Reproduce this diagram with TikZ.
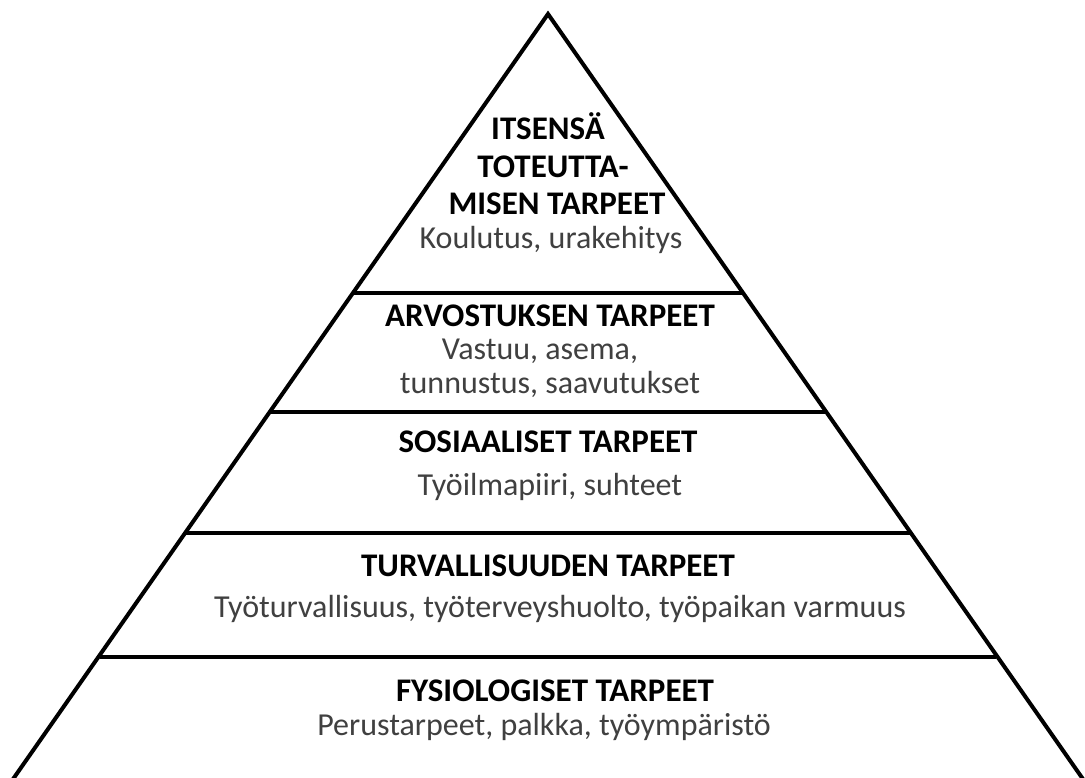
\documentclass[tikz,border=0pt]{standalone}
\usepackage{fontspec}
\setmainfont{Carlito}
\definecolor{bodygray}{HTML}{404040}

\begin{document}
\begin{tikzpicture}[x=1pt,y=-1pt,
  title/.style={font=\fontsize{33}{36}\selectfont\bfseries, text=black, inner sep=0pt},
  body/.style={font=\fontsize{32}{36}\selectfont, text=bodygray, inner sep=0pt}]
\useasboundingbox (0,0) rectangle (1085,778);
\fill[white] (0,0) rectangle (1085,778);
\begin{scope}
\clip (0,0) rectangle (1085,778);
\coordinate (top) at (548,14);
\coordinate (bl) at (4,792);
\coordinate (br) at (1092,792);
\draw[black, line width=4pt, line join=miter] (bl) -- (top) -- (br);
\draw[black, line width=4pt](353.5,293) -- (742.5,293);
\draw[black, line width=4pt](270.6,412) -- (825.4,412);
\draw[black, line width=4pt](186.3,533) -- (909.7,533);
\draw[black, line width=4pt](99.8,657) -- (996.2,657);
\end{scope}
% top
\node[title] (itse1) at (548,126) {ITSENSÄ};
\node[title] (itse2) at (553,167) {TOTEUTTA-};
\node[title] (itse3) at (557,204) {MISEN TARPEET};
\node[body] (itseb) at (551,240) {Koulutus, urakehitys};
% esteem
\node[title] (arvo) at (550,316) {ARVOSTUKSEN TARPEET};
\node[body] (arvob1) at (540,351) {Vastuu, asema,};
\node[body] (arvob2) at (550,384) {tunnustus, saavutukset};
% social
\node[title] (sosi) at (548,442) {SOSIAALISET TARPEET};
\node[body] (sosib) at (550,487) {Työilmapiiri, suhteet};
% safety
\node[title] (turva) at (548,566) {TURVALLISUUDEN TARPEET};
\node[body] (turvab) at (560,609) {Työturvallisuus, työterveyshuolto, työpaikan varmuus};
% physiological
\node[title] (fysio) at (555,691) {FYSIOLOGISET TARPEET};
\node[body] (fysiob) at (544,727) {Perustarpeet, palkka, työympäristö};
\end{tikzpicture}
\end{document}
